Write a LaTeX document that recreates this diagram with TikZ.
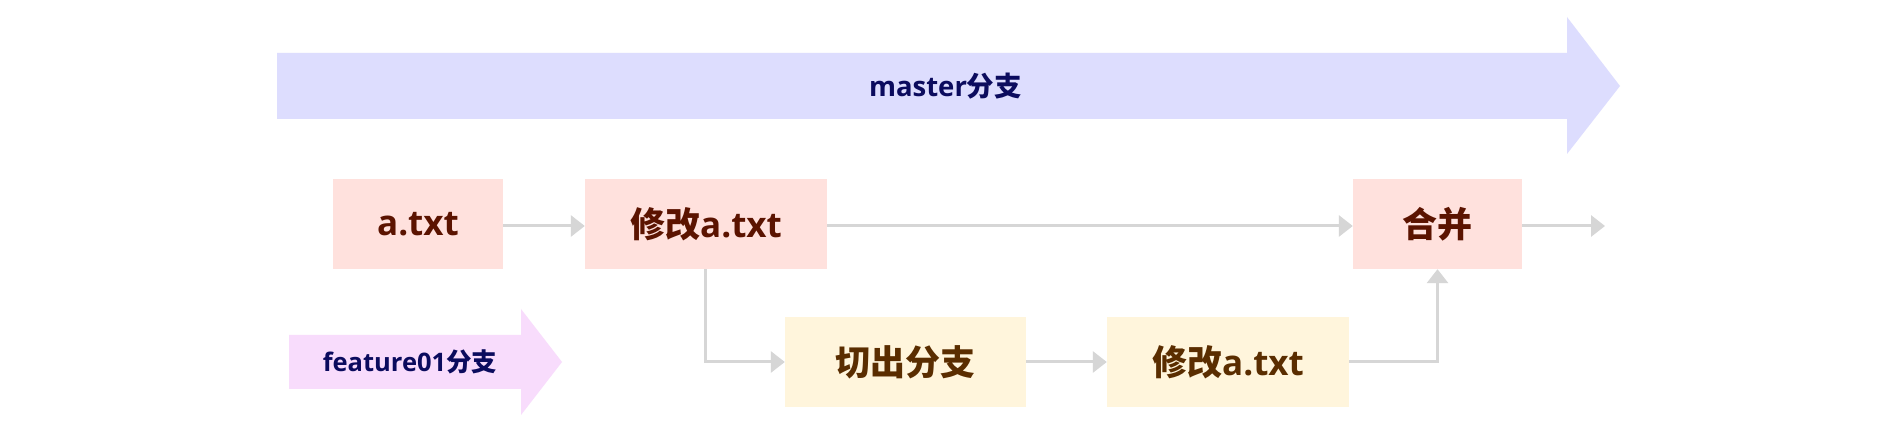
\documentclass[tikz,border=0pt]{standalone}
\usepackage{fontspec}
\setmainfont{Open Sans}
\newfontfamily\cjk{Noto Sans CJK SC}
\usetikzlibrary{arrows.meta}
\definecolor{masterfill}{HTML}{DDDDFE}
\definecolor{featfill}{HTML}{F8DCFC}
\definecolor{navytext}{HTML}{0B0B5E}
\definecolor{pinkfill}{HTML}{FFE1DD}
\definecolor{pinktext}{HTML}{5B1300}
\definecolor{yellowfill}{HTML}{FFF5DC}
\definecolor{yellowtext}{HTML}{5A2D00}
\definecolor{linkgray}{HTML}{D6D6D6}
\tikzset{
  boxbase/.style={minimum height=90pt, inner sep=0pt, font=\fontsize{35}{40}\selectfont\bfseries},
  pinkbox/.style={boxbase, fill=pinkfill, text=pinktext},
  yellowbox/.style={boxbase, fill=yellowfill, text=yellowtext},
  branchlabel/.style={inner sep=0pt, text=navytext, font=\fontsize{27.5}{32}\selectfont\bfseries},
  link/.style={draw=linkgray, line width=3pt, -{Triangle[length=14pt,width=21pt]}},
}
\begin{document}
\begin{tikzpicture}[x=1pt,y=-1pt]
\useasboundingbox[fill=white] (0,0) rectangle (1899,435);
% master branch arrow
\fill[masterfill] (277,53) -- (1567,53) -- (1567,17) -- (1620,86) -- (1567,154) -- (1567,119) -- (277,119) -- cycle;
\node[branchlabel] (masterlbl) at (945.5,86) {master{\cjk 分支}};
% feature branch arrow
\fill[featfill] (289,335) -- (521,335) -- (521,309) -- (562,362) -- (521,415) -- (521,389) -- (289,389) -- cycle;
\node[branchlabel, font=\fontsize{25.5}{30}\selectfont\bfseries] (featlbl) at (410,362) {feature01{\cjk 分支}};
% boxes
\node[pinkbox, minimum width=170pt] (a) at (418,224) {a.txt};
\node[pinkbox, minimum width=242pt] (m1) at (706,224) {{\cjk 修改}a.txt};
\node[pinkbox, minimum width=169pt] (merge) at (1437.5,224) {{\cjk 合并}};
\node[yellowbox, minimum width=241pt] (c1) at (905.5,362) {{\cjk 切出分支}};
\node[yellowbox, minimum width=242pt] (m2) at (1228,362) {{\cjk 修改}a.txt};
\coordinate (endpt) at (1605,226);
% connectors
\draw[link] (a.east |- 0,226) -- (m1.west |- 0,226);
\draw[link] (m1.east |- 0,226) -- (merge.west |- 0,226);
\draw[link] (merge.east |- 0,226) -- (endpt);
\draw[link] (m1.south west) ++(121,0) |- (c1.west);
\draw[link] (c1) -- (m2);
\draw[link] (m2.east) -| (merge.south);
\end{tikzpicture}
\end{document}
